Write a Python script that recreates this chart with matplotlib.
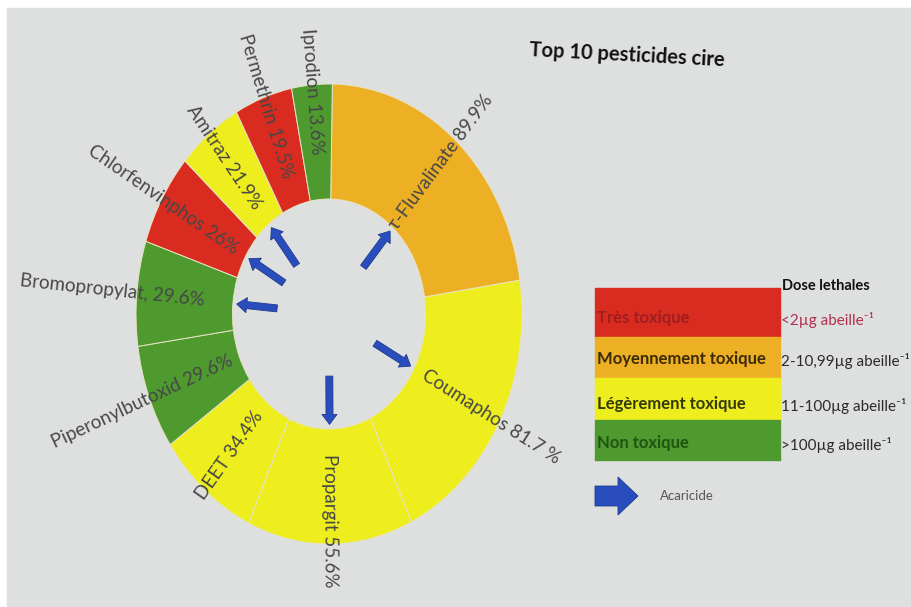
import numpy as np
import matplotlib
matplotlib.use('Agg')
import matplotlib.pyplot as plt
from matplotlib.patches import Rectangle, FancyArrow

plt.rcParams['font.family'] = ['Lato', 'DejaVu Sans']

# pesticides found in wax, frequency of detection (%)
pesticides = ['τ-Fluvalinate', 'Coumaphos', 'Propargit', 'DEET', 'Piperonylbutoxid',
              'Bromopropylat,', 'Chlorfenvinphos', 'Amitraz', 'Permethrin', 'Iprodion']
frequency = [89.9, 81.7, 55.6, 34.4, 29.6, 29.6, 26, 21.9, 19.5, 13.6]
value_text = ['89.9%', '81.7 %', '55.6%', '34.4%', '29.6%', '29.6%', '26%', '21.9%', '19.5%', '13.6%']
toxicity = [1, 2, 2, 2, 3, 3, 0, 2, 0, 3]  # index into tox_classes
acaricide = [True, True, True, False, False, True, True, True, False, False]

tox_classes = ['Très toxique', 'Moyennement toxique', 'Légèrement toxique', 'Non toxique']
tox_colors = ['#D92B1F', '#EDB024', '#EEEE1E', '#4F9A2F']
tox_text_colors = ['#9E1F1F', '#3B2C05', '#333A05', '#1E5512']
lethal_doses = ['<2µg abeille⁻¹', '2-10,99µg abeille⁻¹', '11-100µg abeille⁻¹', '>100µg abeille⁻¹']
dose_colors = ['#B03050', '#2A2A2A', '#2A2A2A', '#2A2A2A']

# layout: radial position of each slice label
label_r = [0.88, 0.95, 0.90, 0.80, 1.04, 1.13, 0.99, 0.87, 0.96, 0.97]

W, H = 911, 607
CX, CY, RX, RY = 329, 314, 193, 230  # ring centre and radii in pixels

fig = plt.figure(figsize=(W / 100, H / 100), dpi=100)
fig.patch.set_facecolor('white')

# background axes in pixel units (y downwards)
bg = fig.add_axes([0, 0, 1, 1])
bg.set_xlim(0, W)
bg.set_ylim(H, 0)
bg.axis('off')
bg.add_patch(Rectangle((7, 8), W - 7, H - 8, color='#DEE0DF', zorder=0))

# donut
ax = fig.add_axes([0, 0, 1, 1])
ax.patch.set_alpha(0)
wedges, _ = ax.pie(frequency, colors=[tox_colors[t] for t in toxicity], startangle=89,
                   counterclock=False,
                   wedgeprops=dict(width=0.5, edgecolor='#E6E3C4', linewidth=0.7))
ax.set_xlim(-CX / RX, (W - CX) / RX)
ax.set_ylim(-(H - CY) / RY, CY / RY)
ax.set_aspect('auto')
ax.axis('off')

for w, name, val, r, is_acar in zip(wedges, pesticides, value_text, label_r, acaricide):
    th = np.deg2rad((w.theta1 + w.theta2) / 2)
    c, s = np.cos(th), np.sin(th)
    rot = np.degrees(np.arctan2(RY * s, RX * c))
    if rot > 90:
        rot -= 180
    elif rot < -90:
        rot += 180
    ax.text(r * c, r * s, '%s %s' % (name, val), rotation=rot, rotation_mode='anchor',
            ha='center', va='center', fontsize=13.5, color='#474747')
    if is_acar:
        ax.annotate('', xy=(0.48 * c, 0.48 * s), xytext=(0.27 * c, 0.27 * s),
                    arrowprops=dict(arrowstyle='simple,head_width=0.9,head_length=0.6,tail_width=0.42',
                                    mutation_scale=12, fc='#2A4DBE', ec='#1C3A8A', lw=0.6,
                                    shrinkA=0, shrinkB=0))

bg.text(530, 50, 'Top 10 pesticides cire', fontsize=14.5, fontweight='bold', color='#111111',
        va='center', ha='left', rotation=-3, rotation_mode='anchor')

# toxicity legend
row_top = [288, 337, 378, 420]
row_bot = [337, 378, 420, 460]
text_y = [318, 359, 404, 443]
for i in range(4):
    bg.add_patch(Rectangle((595, row_top[i]), 185, row_bot[i] - row_top[i],
                           color=tox_colors[i], zorder=1))
    bg.text(597, text_y[i], tox_classes[i], fontsize=12, fontweight='bold',
            color=tox_text_colors[i], va='center', ha='left', zorder=2)
    bg.text(781, text_y[i] + 2, lethal_doses[i], fontsize=11, color=dose_colors[i],
            va='center', ha='left', zorder=2)

bg.text(782, 286, 'Dose lethales', fontsize=10.5, fontweight='bold', color='#111111',
        va='center', ha='left')

bg.add_patch(FancyArrow(595, 496, 43, 0, width=20, head_width=38, head_length=20,
                        length_includes_head=True, fc='#2A4DBE', ec='#1C3A8A', lw=0.6))
bg.text(660, 496, 'Acaricide', fontsize=9.5, color='#555555', va='center', ha='left')

fig.savefig('out.png', dpi=100)
